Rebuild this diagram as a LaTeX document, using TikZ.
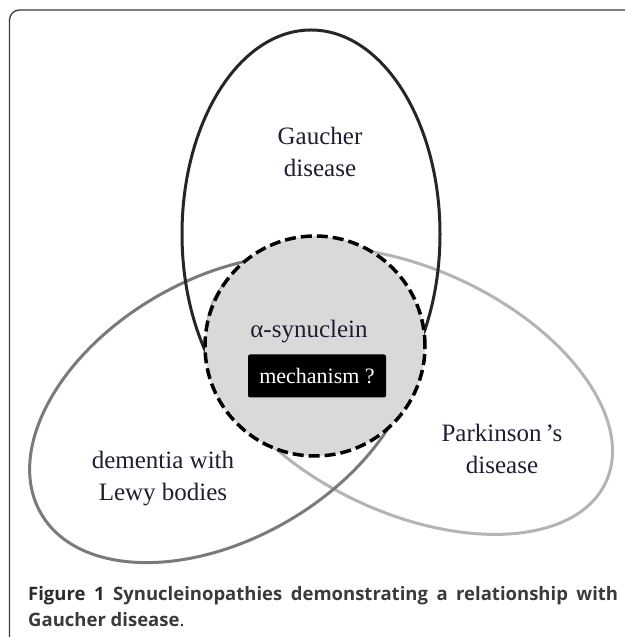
\documentclass[tikz,border=0pt]{standalone}
\usepackage{fontspec}
\setmainfont{Liberation Serif}
\newfontfamily\capfont{Open Sans}
\usetikzlibrary{positioning}
\definecolor{gauchblack}{HTML}{262626}
\definecolor{lewygray}{HTML}{7A7A7A}
\definecolor{parkgray}{HTML}{B4B4B4}
\definecolor{synfill}{HTML}{D9D9D9}
\definecolor{txtnavy}{HTML}{1E1E30}
\definecolor{framegray}{HTML}{3C3C3C}
\definecolor{captxt}{HTML}{2A2A2A}
\definecolor{capsoft}{HTML}{3A3A3A}

\begin{document}
\begin{tikzpicture}[
    x=1pt, y=1pt,
    setlabel/.style={
        align=center, text=txtnavy, inner sep=0pt,
        font=\fontsize{25}{32}\selectfont,
    },
    mechbox/.style={
        fill=black, rounded corners=2pt, text=white,
        minimum width=138pt, minimum height=43pt,
        font=\fontsize{22}{26}\selectfont,
    },
    setline/.style={line width=3pt},
    captionline/.style={anchor=base west, inner sep=0pt, text=captxt,
        font=\capfont\bfseries\fontsize{18.5}{24}\selectfont},
]
\useasboundingbox (0,0) rectangle (624,637);

% frame, cut by the page on the right and at the bottom
\draw[framegray, line width=1.3pt, rounded corners=10pt]
    (640,627) -- (9.5,627) -- (9.5,-10);

% Parkinson's set, tilted down to the right
\draw[setline, parkgray, rotate around={-25:(410,246)}]
    (410,246) ellipse [x radius=216, y radius=122];

% Lewy bodies set, tilted up to the right
\draw[setline, lewygray, rotate around={30:(222,228)}]
    (222,228) ellipse [x radius=209, y radius=130];

% Gaucher set
\draw[setline, gauchblack] (311,403) ellipse [x radius=129, y radius=204];

% shared alpha-synuclein core
\draw[line width=3.5pt, dash pattern=on 11pt off 5pt, fill=synfill]
    (315,291) circle [radius=110];

\node[setlabel] (gaucher) at (320,485) {Gaucher\\disease};
\node[setlabel] (synuclein) at (309,305) {α-synuclein};
\node[mechbox] (mechanism) at (317,261) {mechanism ?};
\node[setlabel] (dlb) at (163,158) {dementia with\\Lewy bodies};
\node[setlabel] (parkinson) at (502,188) {Parkinson\,’s\\disease};

% caption
\node[captionline] (caption1) at (28,36)
    {\makebox[590pt][s]{Figure 1 \color{capsoft}Synucleinopathies demonstrating a relationship with}};
\node[captionline] (caption2) at (28,10)
    {{\color{capsoft}Gaucher disease}\mdseries.};

\end{tikzpicture}
\end{document}
